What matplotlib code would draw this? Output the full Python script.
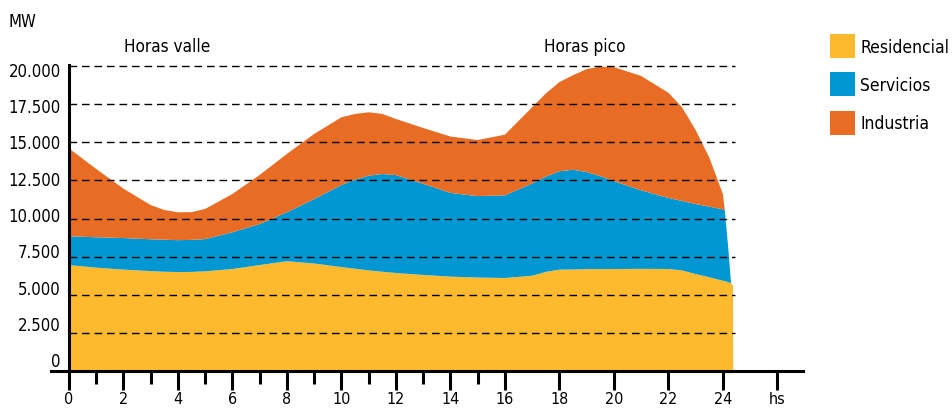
import numpy as np
import matplotlib.pyplot as plt
import matplotlib.transforms as mtransforms
from matplotlib.patches import Patch

plt.rcParams['font.family'] = ['DejaVu Sans']
plt.rcParams['font.stretch'] = 'condensed'

# Datos (MW por hora)
horas = [0, 1, 2, 3, 3.5, 4, 4.5, 5, 6, 7, 8, 9, 10, 10.5, 11, 11.5, 12, 13,
         14, 15, 16, 17, 17.5, 18, 18.5, 19, 19.5, 20, 21, 22, 22.5, 23, 23.5,
         24, 24.07, 24.2, 24.3, 24.37, 24.38]
residencial = [6950, 6780, 6650, 6550, 6510, 6490, 6500, 6540, 6690, 6950,
               7200, 7050, 6820, 6710, 6600, 6510, 6430, 6300, 6190, 6130,
               6100, 6250, 6500, 6650, 6660, 6680, 6685, 6690, 6700, 6690,
               6600, 6360, 6150, 5920, 5900, 5820, 5750, 5600, 0]
servicios = [1890, 1990, 2070, 2090, 2100, 2090, 2100, 2110, 2410, 2690,
             3210, 4230, 5380, 5840, 6210, 6410, 6420, 5980, 5490, 5340,
             5420, 6050, 6250, 6450, 6540, 6370, 6095, 5760, 5150, 4660,
             4550, 4590, 4630, 4680, 4650, 2180, 0, 0, 0]
industria = [5760, 4480, 3240, 2240, 1950, 1830, 1820, 1980, 2510, 3220,
             3830, 4270, 4440, 4310, 4160, 3940, 3680, 3660, 3700, 3680,
             3980, 5000, 5450, 5850, 6200, 6750, 7180, 7480, 7500, 6900,
             6150, 4850, 3220, 1000, 0, 0, 0, 0, 0]

series = ['Residencial', 'Servicios', 'Industria']
colores = ['#FDBA2F', '#0097D3', '#E96C24']
yticks = [0, 2500, 5000, 7500, 10000, 12500, 15000, 17500, 20000]
xticks = list(range(0, 27, 2))
xlabels = [str(h) for h in range(0, 25, 2)] + ['hs']

fig = plt.figure(figsize=(9.53, 4.10), dpi=100)
ax = fig.add_axes([51/953, 1 - 372/410, 752/953, 306/410])

ax.stackplot(horas, residencial, servicios, industria, colors=colores,
             linewidth=0, zorder=1)

# lineas de referencia por encima de las areas
ax.hlines(yticks[1:], 0, 24.44, colors='black', linewidth=1.0,
          linestyles=(0, (5.5, 3.5)), zorder=3)

ax.set_xlim(-0.66, 26.94)
ax.set_ylim(0, 20070)

for s in ['top', 'right']:
    ax.spines[s].set_visible(False)
ax.spines['left'].set_position(('data', 0))
ax.spines['left'].set_linewidth(2.2)
ax.spines['bottom'].set_linewidth(2.2)
ax.spines['left'].set_zorder(4)
ax.spines['bottom'].set_zorder(4)

ax.set_xticks(xticks)
ax.set_xticklabels(xlabels)
ax.set_xticks(list(range(1, 16, 2)), minor=True)
ax.tick_params(axis='x', which='major', direction='out', length=13.5,
               width=2.2, pad=1, labelsize=11.5)
ax.tick_params(axis='x', which='minor', direction='out', length=9, width=2.2)

# etiquetas del eje y, algo desplazadas como en el original
ax.set_yticks(yticks)
ax.tick_params(axis='y', length=0, labelleft=False)
for i, v in enumerate(yticks):
    shift = (9.5 - i * 14.2 / 8) * 0.72
    off = mtransforms.ScaledTranslation(-8 / 100, shift / 72, fig.dpi_scale_trans)
    ax.text(0, v, f'{v:,}'.replace(',', '.'), transform=ax.transData + off,
            ha='right', va='center', fontsize=12)

fig.text(8/953, 1 - 22/410, 'MW', fontsize=12, va='center', ha='left')
fig.text(167/953, 1 - 47/410, 'Horas valle', fontsize=12.3, va='center', ha='center')
fig.text(585/953, 1 - 47/410, 'Horas pico', fontsize=12.3, va='center', ha='center')

handles = [Patch(facecolor=c, edgecolor='none') for c in colores]
fig.legend(handles, series, loc='upper left',
           bbox_to_anchor=(830/953, 1 - 35/410), frameon=False, borderpad=0,
           borderaxespad=0, handlelength=1.44, handleheight=1.745,
           handletextpad=0.3, labelspacing=0.83, fontsize=12.5)

fig.savefig('out.png', dpi=100)
